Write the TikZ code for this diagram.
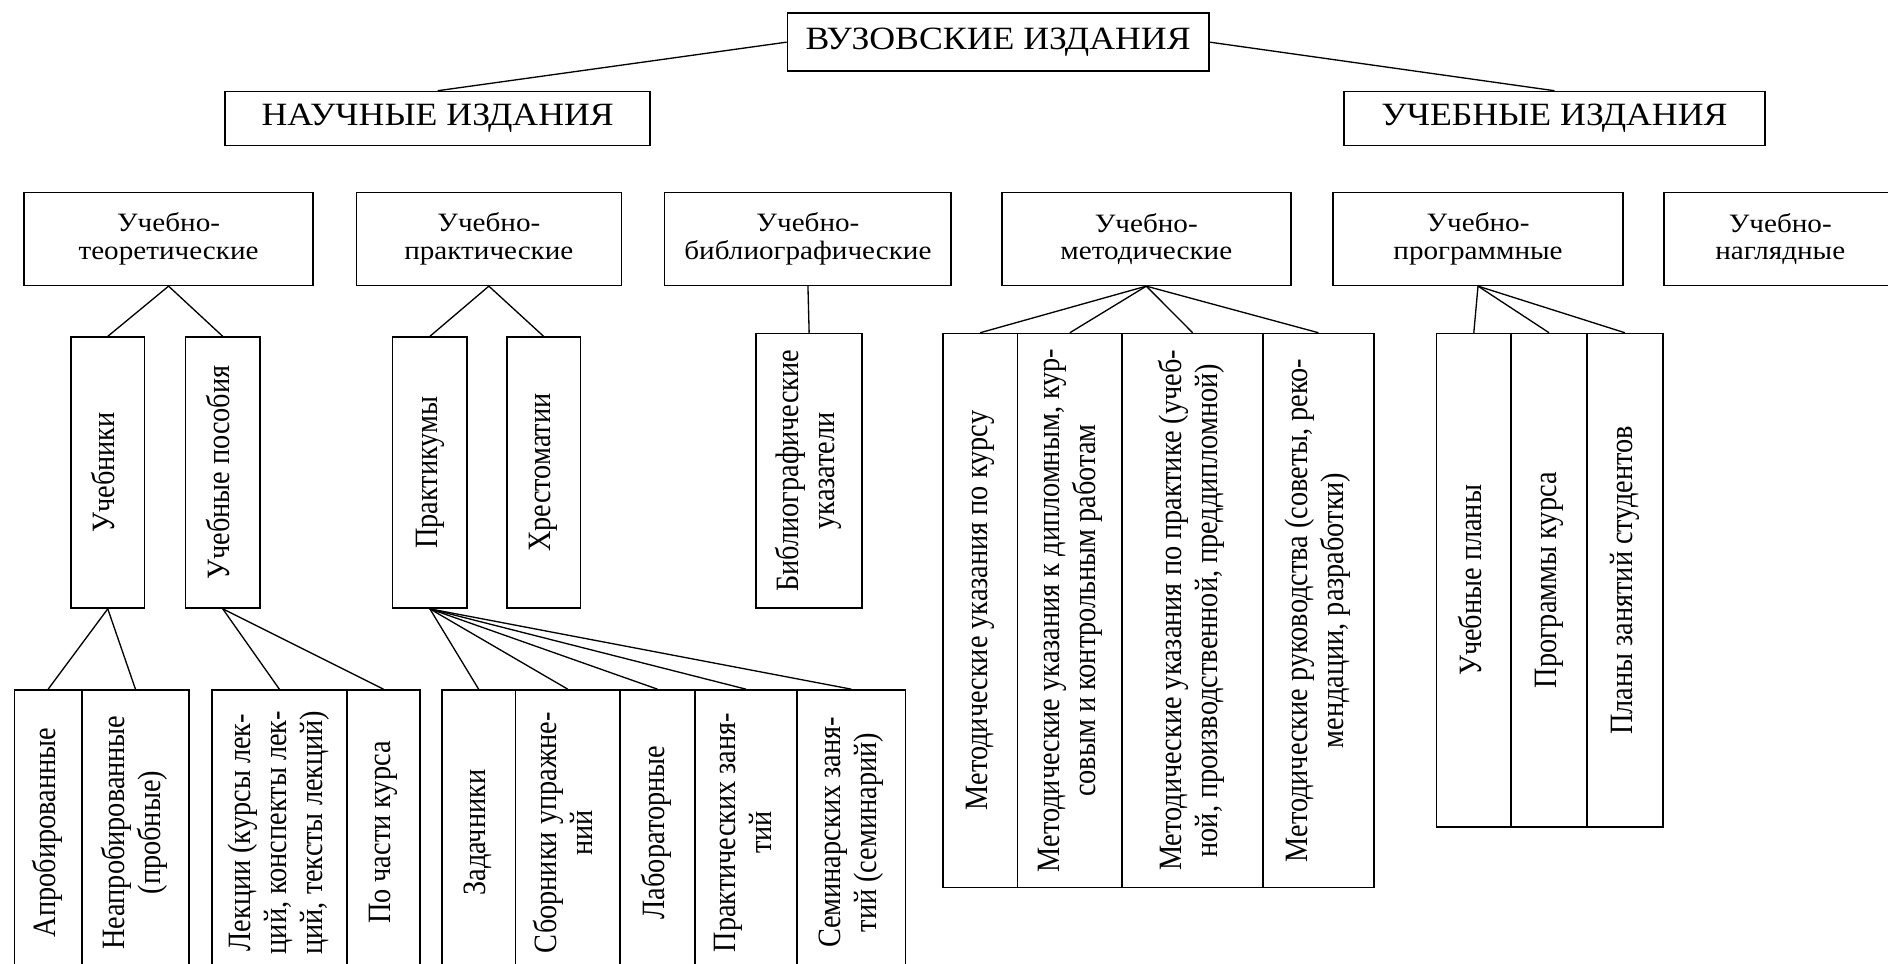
\documentclass[tikz,border=0pt]{standalone}
\usepackage{fontspec}
\setmainfont{Liberation Serif}
\newfontfamily\wideserif[FakeStretch=1.1]{Liberation Serif}
\usepackage{graphicx}
\newcommand{\vtext}[1]{\rotatebox{90}{\scalebox{1}[1.15]{\rmfamily\fontsize{23.5}{26}\selectfont\begin{tabular}{@{}c@{}}#1\end{tabular}}}}
\tikzset{
  box/.style={draw, line width=1.3pt, inner sep=0pt, align=center, font=\wideserif\fontsize{22}{23}\selectfont},
  bigbox/.style={box, font=\wideserif\fontsize{27}{30}\selectfont},
  link/.style={line width=1.1pt}
}
\begin{document}
\begin{tikzpicture}[x=1pt,y=1pt,yscale=-1]
\useasboundingbox[fill=white] (0,0) rectangle (1568,800);
% top level
\node[bigbox, minimum width=350, minimum height=48] (vuz) at (829,35) {ВУЗОВСКИЕ ИЗДАНИЯ};
\node[bigbox, minimum width=353, minimum height=45] (nauch) at (363.5,98.5) {НАУЧНЫЕ ИЗДАНИЯ};
\node[bigbox, minimum width=350, minimum height=45] (ucheb) at (1291,98.5) {УЧЕБНЫЕ ИЗДАНИЯ};
\draw[link] (vuz.west) -- (nauch.north);
\draw[link] (vuz.east) -- (ucheb.north);
% kinds
\node[box, minimum width=240, minimum height=77] (teor) at (140,198.5) {Учебно-\\теоретические};
\node[box, minimum width=220, minimum height=77] (prakt) at (406,198.5) {Учебно-\\практические};
\node[box, minimum width=238, minimum height=77] (bibl) at (671,198.5) {Учебно-\\библиографические};
\node[box, minimum width=240, minimum height=77] (metod) at (952,198.5) {Учебно-\\методические};
\node[box, minimum width=241, minimum height=77] (progr) at (1227.5,198.5) {Учебно-\\программные};
\node[box, minimum width=193, minimum height=77] (nagl) at (1478.5,198.5) {Учебно-\\наглядные};
% second level
\node[box, minimum width=61, minimum height=225] (uchebniki) at (89.5,392.5) {\vtext{Учебники}};
\node[box, minimum width=62, minimum height=225] (posobiya) at (185,392.5) {\vtext{Учебные пособия}};
\node[box, minimum width=62, minimum height=225] (praktikumy) at (357,392.5) {\vtext{Практикумы}};
\node[box, minimum width=61, minimum height=225] (hrest) at (451.5,392.5) {\vtext{Хрестоматии}};
\node[box, minimum width=88, minimum height=228] (bibluk) at (672,391) {\vtext{Библиографические\\указатели}};
\draw[link] (teor.south) -- (uchebniki.north);
\draw[link] (teor.south) -- (posobiya.north);
\draw[link] (prakt.south) -- (praktikumy.north);
\draw[link] (prakt.south) -- (hrest.north);
\draw[link] (bibl.south) -- (bibluk.north);
% methodical group
\node[box, minimum width=62, minimum height=460] (met1) at (814,507) {\vtext{Методические указания по курсу}};
\node[box, minimum width=87, minimum height=460] (met2) at (888.5,507) {\vtext{Методические указания к дипломным, кур-\\совым и контрольным работам}};
\node[box, minimum width=117, minimum height=460] (met3) at (990.5,507) {\vtext{Методические указания по практике (учеб-\\ной, производственной, преддипломной)}};
\node[box, minimum width=92, minimum height=460] (met4) at (1095,507) {\vtext{Методические руководства (советы, реко-\\мендации, разработки)}};
\foreach \m in {met1,met2,met3,met4}
  \draw[link] (metod.south) -- (\m.north);
% program group
\node[box, minimum width=62, minimum height=410] (prg1) at (1224,482) {\vtext{Учебные планы}};
\node[box, minimum width=63, minimum height=410] (prg2) at (1286.5,482) {\vtext{Программы курса}};
\node[box, minimum width=63, minimum height=410] (prg3) at (1349.5,482) {\vtext{Планы занятий студентов}};
\foreach \m in {prg1,prg2,prg3}
  \draw[link] (progr.south) -- (\m.north);
% bottom level
\node[box, minimum width=56, minimum height=237] (aprob) at (40,691.5) {\vtext{Апробированные}};
\node[box, minimum width=89, minimum height=237] (neaprob) at (112.5,691.5) {\vtext{Неапробированные\\(пробные)}};
\node[box, minimum width=112, minimum height=237] (lekcii) at (232,691.5) {\vtext{Лекции (курсы лек-\\ций, конспекты лек-\\ций, тексты лекций)}};
\node[box, minimum width=61, minimum height=237] (pochasti) at (318.5,691.5) {\vtext{По части курса}};
\node[box, minimum width=61, minimum height=237] (zadach) at (397.5,691.5) {\vtext{Задачники}};
\node[box, minimum width=87, minimum height=237] (sborn) at (471.5,691.5) {\vtext{Сборники упражне-\\ний}};
\node[box, minimum width=62, minimum height=237] (labor) at (546,691.5) {\vtext{Лабораторные}};
\node[box, minimum width=85, minimum height=237] (praktz) at (619.5,691.5) {\vtext{Практических заня-\\тий}};
\node[box, minimum width=90, minimum height=237] (seminar) at (707,691.5) {\vtext{Семинарских заня-\\тий (семинарий)}};
\draw[link] (uchebniki.south) -- (aprob.north);
\draw[link] (uchebniki.south) -- (neaprob.north);
\draw[link] (posobiya.south) -- (lekcii.north);
\draw[link] (posobiya.south) -- (pochasti.north);
\foreach \b in {zadach,sborn,labor,praktz,seminar}
  \draw[link] (praktikumy.south) -- (\b.north);
\end{tikzpicture}
\end{document}
